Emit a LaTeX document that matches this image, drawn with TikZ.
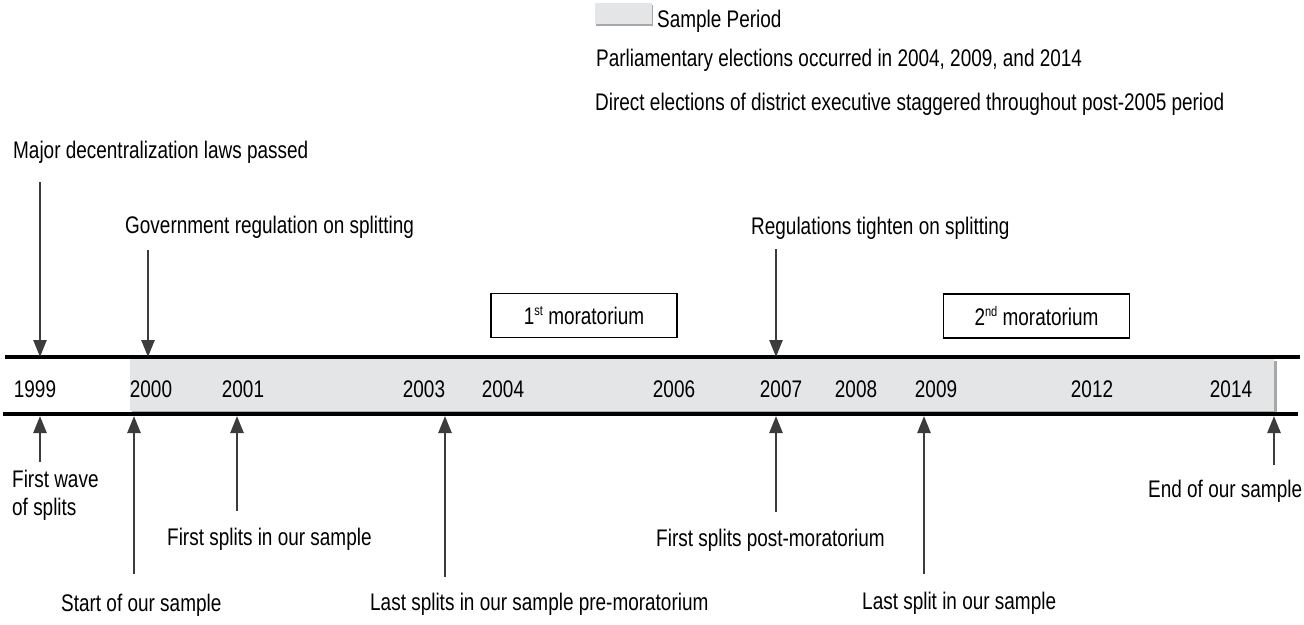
\documentclass[tikz,border=0pt]{standalone}
\usepackage{fontspec}
\setmainfont{Liberation Sans}[FakeStretch=0.79]
\usetikzlibrary{arrows.meta}
\definecolor{band}{HTML}{E4E5E7}
\definecolor{bandshadow}{HTML}{A8A8A8}
\definecolor{arrowgray}{HTML}{3C3C3C}
\newcommand{\supx}[1]{\raisebox{9pt}{\fontsize{14}{14}\selectfont #1}}
\begin{document}
\begin{tikzpicture}[x=1pt,y=-1pt,
  lbl/.style={inner sep=0pt, anchor=base west, font=\fontsize{24}{28}\selectfont, text=black},
  yr/.style={inner sep=0pt, anchor=base, font=\fontsize{24}{28}\selectfont, text=black},
  arr/.style={draw=arrowgray, line width=2.5pt, -{Triangle[length=17pt,width=13pt]}},
  axisline/.style={line width=3.5pt, black},
  morbox/.style={draw=black, line width=1.2pt, fill=white, minimum width=186pt, minimum height=44pt, inner sep=0pt, font=\fontsize{24}{28}\selectfont}]
\useasboundingbox (0,0) rectangle (1304,624);

% legend
\fill[bandshadow] (596,5) rectangle (653,26);
\fill[band] (595,3) rectangle (652,24);
\node[lbl] (leg1) at (657,27) {Sample Period};
\node[lbl] (leg2) at (596,66) {Parliamentary elections occurred in 2004, 2009, and 2014};
\node[lbl] (leg3) at (595,110) {Direct elections of district executive staggered throughout post-2005 period};

% sample band
\fill[bandshadow] (132,361) rectangle (1277,413);
\fill[band] (130,359) rectangle (1274,411);

% axis lines
\coordinate (tl) at (5,357);
\coordinate (tr) at (1300,357);
\coordinate (bl) at (3,414);
\coordinate (br) at (1298,414);
\draw[axisline] (tl) -- (tr);
\draw[axisline] (bl) -- (br);

% years
\node[yr] (y1999) at (35,397) {1999};
\node[yr] (y2000) at (151,397) {2000};
\node[yr] (y2001) at (243,397) {2001};
\node[yr] (y2003) at (424,397) {2003};
\node[yr] (y2004) at (503,397) {2004};
\node[yr] (y2006) at (674,397) {2006};
\node[yr] (y2007) at (781,397) {2007};
\node[yr] (y2008) at (856,397) {2008};
\node[yr] (y2009) at (936,397) {2009};
\node[yr] (y2012) at (1092,397) {2012};
\node[yr] (y2014) at (1231,397) {2014};

% moratorium boxes
\node[morbox] (mor1) at (584,315.5) {1\supx{st} moratorium};
\node[morbox] (mor2) at (1036.5,316) {2\supx{nd} moratorium};

% top labels and arrows
\node[lbl] (lmajor) at (13,158) {Major decentralization laws passed};
\node[lbl] (lgov) at (125,233) {Government regulation on splitting};
\node[lbl] (lreg) at (751,234) {Regulations tighten on splitting};
\coordinate (a1s) at (40,182);  \coordinate (a1e) at (40,357);
\coordinate (a2s) at (148,250); \coordinate (a2e) at (148,357);
\coordinate (a3s) at (776,249); \coordinate (a3e) at (776,357);
\draw[arr] (a1s) -- (a1e);
\draw[arr] (a2s) -- (a2e);
\draw[arr] (a3s) -- (a3e);

% bottom labels and arrows
\node[lbl, anchor=north west, align=left] (lwave) at (12,469.5) {First wave\\of splits};
\node[lbl] (lfirst) at (167,545) {First splits in our sample};
\node[lbl] (lstart) at (61,611) {Start of our sample};
\node[lbl] (llastpre) at (370,610) {Last splits in our sample pre-moratorium};
\node[lbl] (lpost) at (656,546) {First splits post-moratorium};
\node[lbl] (llast) at (862,609) {Last split in our sample};
\node[lbl] (lend) at (1148,497) {End of our sample};

\coordinate (b1s) at (40,462);   \coordinate (b1e) at (40,416);
\coordinate (b2s) at (134,574);  \coordinate (b2e) at (134,416);
\coordinate (b3s) at (237,511);  \coordinate (b3e) at (237,416);
\coordinate (b4s) at (445,577);  \coordinate (b4e) at (445,416);
\coordinate (b5s) at (776,512);  \coordinate (b5e) at (776,416);
\coordinate (b6s) at (924,574);  \coordinate (b6e) at (924,416);
\coordinate (b7s) at (1274,465); \coordinate (b7e) at (1274,416);
\foreach \i in {1,...,7}{\draw[arr] (b\i s) -- (b\i e);}
\end{tikzpicture}
\end{document}
